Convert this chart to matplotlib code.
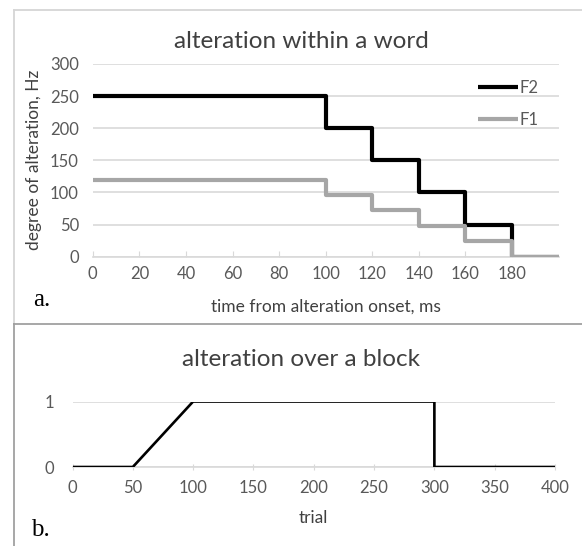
import matplotlib
matplotlib.use("Agg")
import matplotlib.pyplot as plt
from matplotlib.lines import Line2D

# panel a: formant shift within a word
time_ms = [0, 100, 120, 140, 160, 180, 200]
f2_hz = [250, 200, 150, 100, 50, 0, 0]
f1_hz = [120, 96, 72, 48, 24, 0, 0]
time_ticks = [0, 20, 40, 60, 80, 100, 120, 140, 160, 180]
hz_ticks = [0, 50, 100, 150, 200, 250, 300]

# panel b: alteration over a block
trial = [0, 50, 100, 300, 300, 400]
alteration = [0, 0, 1, 1, 0, 0]
trial_ticks = [0, 50, 100, 150, 200, 250, 300, 350, 400]

GRID = "#d9d9d9"
TEXT = "#595959"
LABEL = "#404040"
FONT = "Lato"

plt.rcParams["font.family"] = FONT

fig = plt.figure(figsize=(5.82, 5.46), dpi=100)
W, H = 582.0, 546.0

# panel frames: light for a, darker for b
light = dict(color="#d6d6d6", lw=1.3, transform=fig.transFigure)
dark = dict(color="#a0a0a0", lw=1.3, transform=fig.transFigure)
fig.add_artist(Line2D([13.5 / W, 13.5 / W], [1 - 10 / H, 1 - 324 / H], **light))
fig.add_artist(Line2D([13.5 / W, 1], [1 - 10 / H, 1 - 10 / H], **light))
fig.add_artist(Line2D([13.5 / W, 13.5 / W], [1 - 324 / H, 0], **dark))
fig.add_artist(Line2D([13.5 / W, 1], [1 - 324 / H, 1 - 324 / H], **dark))


def style(ax, ypad):
    for side in ["top", "right", "left"]:
        ax.spines[side].set_visible(False)
    ax.spines["bottom"].set_color(GRID)
    ax.spines["bottom"].set_linewidth(1.2)
    ax.grid(axis="y", color=GRID, linewidth=1.2)
    ax.set_axisbelow(True)
    ax.tick_params(axis="y", length=0, labelsize=12, labelcolor=TEXT, pad=ypad)
    ax.tick_params(axis="x", length=4, color=GRID, direction="in",
                   labelsize=12, labelcolor=TEXT, pad=7)


# top chart
ax1 = fig.add_axes([92.8 / W, 1 - 256.6 / H, 465.8 / W, 192.6 / H])
ax1.plot(time_ms, f2_hz, drawstyle="steps-post", color="black", lw=3, label="F2",
         solid_capstyle="butt", zorder=2)
ax1.plot(time_ms, f1_hz, drawstyle="steps-post", color="#a6a6a6", lw=3, label="F1",
         solid_capstyle="butt", zorder=3)
ax1.set_xlim(0, 200)
ax1.set_ylim(0, 300)
ax1.set_xticks(time_ticks)
ax1.set_yticks(hz_ticks)
style(ax1, 10)
ax1.set_ylabel("degree of alteration, Hz", fontsize=12.5, color=LABEL)
ax1.yaxis.set_label_coords(-0.11, 0.5)
ax1.set_xlabel("time from alteration onset, ms", fontsize=12.5, color=LABEL)
ax1.xaxis.set_label_coords(0.5, (256.6 - 299) / 192.6)
ax1.legend(loc="upper left", bbox_to_anchor=(0.81, 0.96), frameon=False,
           handlelength=2.4, handletextpad=0.05, labelspacing=0.95, borderpad=0,
           fontsize=12, labelcolor=TEXT)
fig.text(301 / W, 1 - 42 / H, "alteration within a word", fontsize=17.5,
         color=LABEL, ha="center", va="center")

# bottom chart
ax2 = fig.add_axes([72.5 / W, 1 - 467 / H, 482.5 / W, 65.5 / H])
ax2.plot(trial, alteration, color="black", lw=1.9, zorder=3)
ax2.set_xlim(0, 400)
ax2.set_ylim(0, 1)
ax2.set_xticks(trial_ticks)
ax2.set_yticks([0, 1])
style(ax2, 13)
ax2.tick_params(axis="x", direction="inout", length=5)
ax2.set_xlabel("trial", fontsize=12.5, color=LABEL)
ax2.xaxis.set_label_coords(0.5, (467 - 510) / 65.5)
fig.text(301 / W, 1 - 360 / H, "alteration over a block", fontsize=17.5,
         color=LABEL, ha="center", va="center")

# panel letters
fig.text(33 / W, 1 - 300 / H, "a.", family="Liberation Serif", fontsize=18, va="center")
fig.text(31 / W, 1 - 530 / H, "b.", family="Liberation Serif", fontsize=18, va="center")

fig.savefig("out.png", dpi=100)
